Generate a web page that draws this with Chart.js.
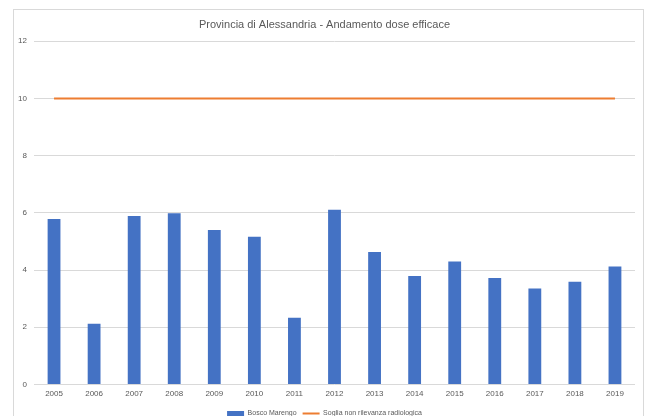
<!DOCTYPE html>
<html>
<head>
<meta charset="utf-8">
<script src="https://cdn.jsdelivr.net/npm/chart.js@4/dist/chart.umd.min.js"></script>
<style>
  html, body { margin: 0; padding: 0; background: #fff; overflow: hidden; }
  #box {
    position: absolute; left: 13px; top: 9px;
    width: 629px; height: 430px;
    border: 1px solid #d9d9d9; background: #fff;
  }
  #wrap { position: absolute; left: 0; top: 0; width: 629px; height: 417px; }
</style>
</head>
<body>
<div id="box"><div id="wrap"><canvas id="myChart"></canvas></div></div>
<script>
// anni e dose efficace misurata
const anni = ['2005', '2006', '2007', '2008', '2009', '2010', '2011', '2012',
  '2013', '2014', '2015', '2016', '2017', '2018', '2019'];
const boscoMarengo = [5.78, 2.12, 5.89, 5.98, 5.4, 5.16, 2.33, 6.11,
  4.63, 3.79, 4.3, 3.72, 3.35, 3.59, 4.12];
const soglia = [10, 10, 10, 10, 10, 10, 10, 10, 10, 10, 10, 10, 10, 10, 10];
const yTicks = [0, 2, 4, 6, 8, 10, 12];

const fontFam = '"Liberation Sans", "DejaVu Sans", sans-serif';
const grigio = '#595959';

const ctx = document.getElementById('myChart').getContext('2d');
new Chart(ctx, {
  type: 'bar',
  data: {
    labels: anni,
    datasets: [
      {
        type: 'line',
        label: 'Soglia non rilevanza radiologica',
        data: soglia,
        borderColor: '#ED7D31',
        backgroundColor: '#ED7D31',
        borderWidth: 2,
        pointRadius: 0,
        pointStyle: 'line',
        order: 0
      },
      {
        label: 'Bosco Marengo',
        data: boscoMarengo,
        backgroundColor: '#4472C4',
        borderWidth: 0,
        barPercentage: 0.32,
        categoryPercentage: 1,
        pointStyle: 'rect',
        order: 1
      }
    ]
  },
  options: {
    responsive: true,
    maintainAspectRatio: false,
    animation: false,
    layout: { padding: { left: 0, right: 8, top: 1, bottom: 0 } },
    scales: {
      x: {
        grid: { display: false, drawTicks: false },
        border: { display: false },
        ticks: { color: grigio, font: { family: fontFam, size: 8 }, padding: 5, maxRotation: 0 }
      },
      y: {
        min: 0,
        max: 12,
        afterBuildTicks: s => { s.ticks = yTicks.map(v => ({ value: v })); },
        afterFit: s => { s.width = 20; },
        grid: { color: '#d9d9d9', drawTicks: false, lineWidth: 1 },
        border: { display: false },
        ticks: { color: grigio, font: { family: fontFam, size: 8 }, padding: 7 }
      }
    },
    plugins: {
      title: {
        display: true,
        text: 'Provincia di Alessandria - Andamento dose efficace',
        color: grigio,
        font: { family: fontFam, size: 11, weight: 'normal' },
        padding: { top: 7, bottom: 10 }
      },
      legend: {
        position: 'bottom',
        reverse: true,
        labels: {
          color: grigio,
          font: { family: fontFam, size: 7 },
          usePointStyle: true,
          pointStyleWidth: 17,
          boxHeight: 5,
          padding: 6
        }
      },
      tooltip: { enabled: false }
    }
  }
});
</script>
</body>
</html>
